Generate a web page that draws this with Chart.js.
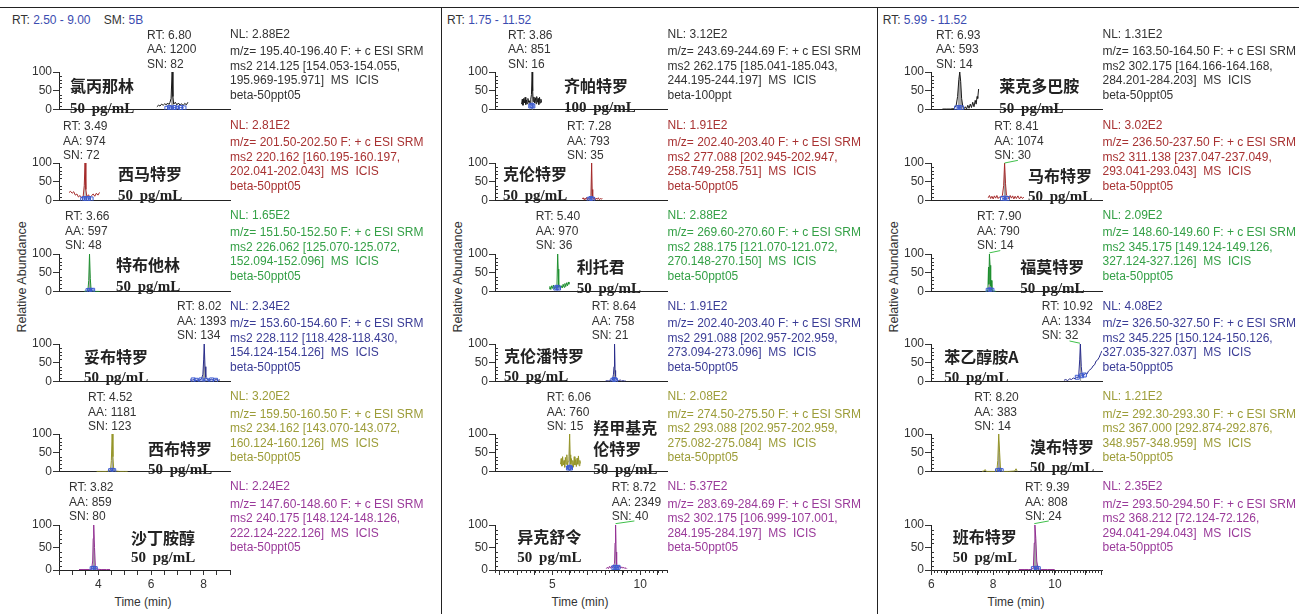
<!DOCTYPE html>
<html><head><meta charset="utf-8">
<script src="https://cdn.jsdelivr.net/npm/chart.js@4/dist/chart.umd.min.js"></script>
<style>
html,body{margin:0;padding:0;background:#fff;}
body{width:1299px;height:614px;position:relative;overflow:hidden;font-family:"Liberation Sans",Arial,sans-serif;}
.t{position:absolute;white-space:pre;font-size:12px;line-height:14.5px;color:#333;}
.cn{position:absolute;white-space:pre;font-family:"Noto Sans CJK SC";font-size:16px;font-weight:bold;color:#222;line-height:21px;}
.conc{position:absolute;white-space:pre;font-family:"Liberation Serif",serif;font-weight:bold;font-size:15px;color:#222;line-height:18px;word-spacing:3px;}
.ttl{position:absolute;white-space:pre;font-size:12px;color:#333;line-height:14px;}
.rule{position:absolute;background:#222;}
canvas{position:absolute;}
</style></head><body>
<script>
// ---------------- DATA ----------------
const PANEL_RANGES = [[2.50, 9.00], [1.75, 11.52], [5.99, 11.52]];
const PANEL_RT_TEXT = ["2.50 - 9.00", "1.75 - 11.52", "5.99 - 11.52"];
const X_TICK_STEP = [0.5, 1, 0.5];
const X_MINOR_STEP = [0, 0.25, 0.1];
const X_LABEL_STEP = [2, 5, 2];
const Y_TICKS = [0, 50, 100];

const COMPOUNDS = [
  ["氯丙那林", "西马特罗", "特布他林", "妥布特罗", "西布特罗", "沙丁胺醇"],
  ["齐帕特罗", "克伦特罗", "利托君", "克伦潘特罗", "羟甲基克\n伦特罗", "异克舒令"],
  ["莱克多巴胺", "马布特罗", "福莫特罗", "苯乙醇胺A", "溴布特罗", "班布特罗"]
];
const CONCS = [
  ["50 pg/mL","50 pg/mL","50 pg/mL","50 pg/mL","50 pg/mL","50 pg/mL"],
  ["100 pg/mL","50 pg/mL","50 pg/mL","50 pg/mL","50 pg/mL","50 pg/mL"],
  ["50 pg/mL","50 pg/mL","50 pg/mL","50 pg/mL","50 pg/mL","50 pg/mL"]
];
const PEAK_RT = [["6.80","3.49","3.66","8.02","4.52","3.82"], ["3.86","7.28","5.40","8.64","6.06","8.72"], ["6.93","8.41","7.90","10.92","8.20","9.39"]];
const PEAK_AA = [[1200, 974, 597, 1393, 1181, 859], [851, 793, 970, 758, 760, 2349], [593, 1074, 790, 1334, 383, 808]];
const PEAK_SN = [[82, 72, 48, 134, 123, 80], [16, 35, 36, 21, 15, 40], [14, 30, 14, 32, 14, 24]];
const NL = [["2.88E2","2.81E2","1.65E2","2.34E2","3.20E2","2.24E2"], ["3.12E2","1.91E2","2.88E2","1.91E2","2.08E2","5.37E2"], ["1.31E2","3.02E2","2.09E2","4.08E2","1.21E2","2.35E2"]];
const MZ = [["195.40-196.40","201.50-202.50","151.50-152.50","153.60-154.60","159.50-160.50","147.60-148.60"],
            ["243.69-244.69","202.40-203.40","269.60-270.60","202.40-203.40","274.50-275.50","283.69-284.69"],
            ["163.50-164.50","236.50-237.50","148.60-149.60","326.50-327.50","292.30-293.30","293.50-294.50"]];
const MS2_PARENT = [["214.125","220.162","226.062","228.112","234.162","240.175"],
                    ["262.175","277.088","288.175","291.088","293.088","302.175"],
                    ["302.175","311.138","345.175","345.225","367.000","368.212"]];
const MS2_RANGE1 = [["154.053-154.055","160.195-160.197","125.070-125.072","118.428-118.430","143.070-143.072","148.124-148.126"],
                    ["185.041-185.043","202.945-202.947","121.070-121.072","202.957-202.959","202.957-202.959","106.999-107.001"],
                    ["164.166-164.168","237.047-237.049","149.124-149.126","150.124-150.126","292.874-292.876","72.124-72.126"]];
const MS2_RANGE2 = [["195.969-195.971","202.041-202.043","152.094-152.096","154.124-154.126","160.124-160.126","222.124-222.126"],
                    ["244.195-244.197","258.749-258.751","270.148-270.150","273.094-273.096","275.082-275.084","284.195-284.197"],
                    ["284.201-284.203","293.041-293.043","327.124-327.126","327.035-327.037","348.957-348.959","294.041-294.043"]];
const FILES = [["beta-50ppt05","beta-50ppt05","beta-50ppt05","beta-50ppt05","beta-50ppt05","beta-50ppt05"],
               ["beta-100ppt","beta-50ppt05","beta-50ppt05","beta-50ppt05","beta-50ppt05","beta-50ppt05"],
               ["beta-50ppt05","beta-50ppt05","beta-50ppt05","beta-50ppt05","beta-50ppt05","beta-50ppt05"]];

// chromatogram traces: [time (min), relative abundance (%)]
const T_CHLORPRENALINE = [[6.22,8],[6.28,12],[6.34,10],[6.40,15],[6.46,12],[6.52,16],[6.58,13],[6.63,18],[6.68,14],[6.72,20],[6.76,30],[6.80,100],[6.83,35],[6.86,15],[6.92,20],[6.98,13],[7.04,18],[7.10,12],[7.16,16],[7.22,11],[7.28,17],[7.34,13],[7.40,20]];
const T_CIMATEROL = [[2.88,22],[2.94,25],[3.00,20],[3.06,24],[3.12,15],[3.18,18],[3.24,10],[3.30,14],[3.36,8],[3.42,12],[3.46,40],[3.49,100],[3.52,30],[3.56,10],[3.62,16],[3.68,9],[3.74,14],[3.80,18],[3.86,12],[3.92,20],[3.98,15],[4.04,22]];
const T_TERBUTALINE = [[3.45,1],[3.55,2],[3.60,4],[3.63,30],[3.66,100],[3.69,35],[3.72,5],[3.78,2],[3.90,1],[4.05,1]];
const T_TULOBUTEROL = [[7.48,5],[7.55,4],[7.62,6],[7.70,3],[7.78,5],[7.85,4],[7.92,8],[7.97,20],[8.00,60],[8.02,100],[8.05,40],[8.08,12],[8.14,6],[8.22,4],[8.30,7],[8.38,3],[8.46,6],[8.54,4],[8.62,5]];
const T_CIMBUTEROL = [[3.93,1],[4.10,1],[4.30,1],[4.40,2],[4.46,5],[4.49,30],[4.52,100],[4.55,40],[4.58,6],[4.65,2],[4.80,1],[5.00,1],[5.11,1]];
const T_SALBUTAMOL = [[3.26,1],[3.45,1],[3.65,1],[3.74,2],[3.78,20],[3.80,70],[3.82,100],[3.85,50],[3.88,10],[3.92,2],[4.10,1],[4.30,1],[4.44,1]];
const T_ZILPATEROL = [[3.26,15],[3.30,28],[3.34,12],[3.38,30],[3.42,18],[3.46,33],[3.50,14],[3.54,26],[3.58,16],[3.62,30],[3.66,20],[3.70,24],[3.74,15],[3.78,28],[3.82,40],[3.86,100],[3.89,50],[3.92,22],[3.96,34],[4.00,18],[4.04,32],[4.08,16],[4.12,35],[4.16,20],[4.20,30],[4.24,14],[4.28,33],[4.32,18],[4.36,28],[4.39,20]];
const T_CLENBUTEROL = [[6.71,5],[6.76,8],[6.81,3],[6.86,7],[6.91,4],[6.96,9],[7.01,3],[7.06,6],[7.11,4],[7.16,8],[7.20,15],[7.24,100],[7.27,30],[7.30,8],[7.35,4],[7.40,9],[7.45,3],[7.50,7],[7.56,4],[7.62,8],[7.68,3],[7.74,6],[7.79,4],[7.84,7]];
const T_RITODRINE = [[4.82,8],[4.87,14],[4.92,6],[4.97,16],[5.02,9],[5.07,18],[5.12,8],[5.17,14],[5.22,10],[5.27,20],[5.31,100],[5.34,60],[5.37,12],[5.42,18],[5.47,9],[5.52,16],[5.57,10],[5.62,20],[5.67,12],[5.72,22],[5.77,14],[5.82,24],[5.87,16],[5.92,26],[5.95,20]];
const T_CLENPENTEROL = [[8.03,2],[8.10,3],[8.18,2],[8.26,4],[8.34,3],[8.40,6],[8.45,12],[8.48,20],[8.51,40],[8.54,100],[8.57,30],[8.60,15],[8.64,8],[8.70,4],[8.78,3],[8.86,5],[8.94,2],[9.02,3],[9.10,2],[9.16,3]];
const T_HYDROXYMETHYLCLENBUTEROL = [[5.47,20],[5.51,35],[5.55,15],[5.59,40],[5.63,18],[5.67,30],[5.71,12],[5.75,38],[5.79,20],[5.83,45],[5.87,15],[5.91,28],[5.95,40],[5.99,100],[6.02,45],[6.05,20],[6.09,35],[6.13,15],[6.17,30],[6.21,12],[6.25,40],[6.29,18],[6.33,32],[6.37,14],[6.41,36],[6.45,20],[6.49,42],[6.53,16],[6.57,30],[6.60,22]];
const T_ISOXSUPRINE = [[8.07,3],[8.13,6],[8.19,3],[8.25,8],[8.31,4],[8.37,9],[8.43,5],[8.49,10],[8.54,15],[8.57,60],[8.60,100],[8.63,40],[8.66,12],[8.71,8],[8.77,5],[8.83,9],[8.89,4],[8.95,7],[9.01,4],[9.07,6],[9.13,3],[9.19,5],[9.24,3]];
const T_RACTOPAMINE = [[6.36,2],[6.50,2],[6.62,2],[6.72,3],[6.80,10],[6.85,35],[6.89,80],[6.92,100],[6.95,75],[6.98,30],[7.02,8],[7.06,3],[7.10,8],[7.14,2],[7.18,12],[7.22,4],[7.26,15],[7.30,6],[7.34,20],[7.38,8],[7.42,25],[7.45,15],[7.48,35],[7.50,30],[7.53,55]];
const T_MABUTEROL = [[7.84,8],[7.88,14],[7.92,6],[7.96,12],[8.00,5],[8.04,13],[8.08,7],[8.12,14],[8.16,6],[8.20,10],[8.25,8],[8.30,15],[8.34,40],[8.37,100],[8.40,45],[8.43,15],[8.47,12],[8.51,5],[8.55,14],[8.59,7],[8.63,13],[8.67,5],[8.71,12],[8.75,6],[8.80,13],[8.85,5],[8.90,11],[8.95,6],[8.99,10]];
const T_FORMOTEROL = [[7.75,1],[7.80,2],[7.83,5],[7.85,65],[7.86,20],[7.88,100],[7.90,70],[7.92,15],[7.94,30],[7.96,5],[8.00,2],[8.10,1]];
const T_PHENYLETHANOLAMINE_A = [[10.29,4],[10.35,6],[10.41,3],[10.47,8],[10.53,6],[10.59,10],[10.65,8],[10.70,12],[10.74,10],[10.77,20],[10.80,60],[10.82,100],[10.85,40],[10.88,15],[10.93,18],[10.98,22],[11.03,20],[11.08,28],[11.13,32],[11.18,35],[11.23,42],[11.28,45],[11.33,55],[11.38,58],[11.43,65],[11.48,75],[11.52,82]];
const T_BROMBUTEROL = [[7.64,1],[7.70,2],[7.74,6],[7.78,1],[7.90,1],[8.05,1],[8.12,2],[8.15,30],[8.18,100],[8.21,50],[8.24,5],[8.30,1],[8.50,1],[8.70,2],[8.74,8],[8.78,1],[8.80,1]];
const T_BAMBUTEROL = [[8.83,1],[9.00,1],[9.15,1],[9.25,1],[9.30,5],[9.33,60],[9.35,100],[9.38,70],[9.41,20],[9.45,3],[9.55,1],[9.75,1],[9.99,1]];

const TRACES = [
  [T_CHLORPRENALINE, T_CIMATEROL, T_TERBUTALINE, T_TULOBUTEROL, T_CIMBUTEROL, T_SALBUTAMOL],
  [T_ZILPATEROL, T_CLENBUTEROL, T_RITODRINE, T_CLENPENTEROL, T_HYDROXYMETHYLCLENBUTEROL, T_ISOXSUPRINE],
  [T_RACTOPAMINE, T_MABUTEROL, T_FORMOTEROL, T_PHENYLETHANOLAMINE_A, T_BROMBUTEROL, T_BAMBUTEROL]
];
// integrated peak limits [start, end] (min)
const PEAK_LIMITS = [
  [[6.74,6.86],[3.45,3.53],[3.61,3.72],[7.95,8.10],[4.47,4.60],[3.76,3.92]],
  [[3.80,3.92],[7.19,7.29],[5.29,5.36],[8.46,8.62],[5.93,6.05],[8.55,8.68]],
  [[6.82,7.02],[8.33,8.45],[7.84,7.97],[10.78,10.86],[8.14,8.25],[9.30,9.45]]
];
// baseline markers [time, abundance]
const BASE_MARKS = [
  [[[6.60,4],[6.70,6],[6.78,4],[6.90,6],[7.00,4],[7.12,6],[7.25,5]], [[3.40,4],[3.47,6],[3.55,4],[3.62,6],[3.72,5]], [[3.60,3],[3.66,4],[3.72,3],[3.78,4]], [[7.60,5],[7.72,4],[7.90,5],[8.10,4],[8.30,5],[8.45,4]], [[4.46,3],[4.52,4],[4.58,3]], [[3.76,3],[3.82,4],[3.88,3]]],
  [[[3.78,10],[3.84,12],[3.90,10]], [[7.10,4],[7.20,6],[7.30,4]], [[5.20,10],[5.28,12],[5.36,10]], [[8.44,4],[8.52,6],[8.60,4]], [[5.92,10],[5.98,12],[6.04,10]], [[8.50,5],[8.58,6],[8.66,5],[8.74,6]]],
  [[[6.82,5],[6.90,6],[6.98,5]], [[8.30,6],[8.38,7],[8.46,6]], [[7.84,4],[7.90,5],[7.96,4]], [[10.72,12],[10.86,16],[10.95,18]], [[8.14,3],[8.20,4],[8.26,3]], [[9.30,3],[9.40,4],[9.46,3]]]
];
// S/N leader lines [[t0,y0],[t1,y1]]
const LEADERS = [
  [null, null, null, null, null, null],
  [null, null, null, null, null, [[8.60,103],[9.67,109]]],
  [null, [[8.37,100],[8.80,107]], [[7.88,103],[8.23,109]], [[10.81,102],[10.47,108]], null, [[9.33,103],[9.80,109]]]
];

// ---------------- LAYOUT / STYLE ----------------
const AXIS_X = [59, 495, 931];
const PLOT_R = [229.5, 667, 1102];
const SUB_TOP = [72, 163, 254, 344, 434, 525];
const SUB_H = 45;
const NL_Y = [34, 125, 215, 306, 396.5, 486.5];
const TRACE_COLORS = ['#1a1a1a', '#a52a2a', '#1f9030', '#2a2e8c', '#959528', '#932f93'];
const TEXT_COLORS = ['#333333', '#a83232', '#34a046', '#3a3c96', '#9c9c38', '#9a3a9a'];
const RT_POS = [
  [[147,35],[63,126.7],[65,216.7],[177,306.7],[88,397.3],[69,487.7]],
  [[508,35],[567,126.7],[535.7,216.7],[591.7,306.7],[546.7,397.3],[611.7,487.7]],
  [[936,35],[994.3,126.7],[977,216.7],[1041.7,306.7],[974.3,397.3],[1025,487.7]]
];
const NAME_POS = [
  [[70,85,107.5],[118,173,195],[116,264,285.5],[84,356,377],[148,448,468.5],[131,537.7,557]],
  [[564,85,106.5],[503,173,194.5],[576.7,266.7,287.5],[504,355,376],[593.3,427.3,468.5],[517.3,536.7,557]],
  [[999.3,85,107.5],[1028,175,195.5],[1020.3,266.7,287.5],[944.3,356.7,377],[1030,446.7,467],[952.7,536.7,556.5]]
];
const HEADER_X = [12, 447, 882.7];
const YTITLE_X = [22, 458, 894];
const XTITLE_X = [143, 580, 1016];

function addDiv(cls, text, left, top, color, extra) {
  const d = document.createElement('div');
  d.className = cls;
  d.textContent = text;
  d.style.left = left + 'px';
  d.style.top = top + 'px';
  if (color) d.style.color = color;
  if (extra) Object.assign(d.style, extra);
  document.body.appendChild(d);
  return d;
}

// frame rules
function rule(l, t, w, h) { const d = document.createElement('div'); d.className = 'rule'; Object.assign(d.style, {left:l+'px', top:t+'px', width:w+'px', height:h+'px'}); document.body.appendChild(d); }
rule(0, 7, 1299, 1.3);
rule(440.5, 7, 1.3, 607);
rule(877, 7, 1.3, 607);

const minorTicks = {
  id: 'minorTicks',
  afterDraw(chart, args, opts) {
    const ctx = chart.ctx, ys = chart.scales.y, xs = chart.scales.x;
    ctx.save();
    ctx.strokeStyle = '#333';
    ctx.lineWidth = 1;
    ctx.beginPath();
    for (let v = 10; v < 100; v += 10) {
      if (v === 50) continue;
      const py = Math.round(ys.getPixelForValue(v)) + 0.5;
      ctx.moveTo(ys.right, py); ctx.lineTo(ys.right + 3, py);
    }
    if (opts.step) {
      const st = opts.step;
      for (let i = Math.ceil(xs.min / st - 1e-6); i * st <= xs.max + 1e-9; i++) {
        const px = Math.round(xs.getPixelForValue(i * st)) + 0.5;
        ctx.moveTo(px, xs.top); ctx.lineTo(px, xs.top + 3);
      }
    }
    ctx.stroke();
    ctx.restore();
  }
};

const FONT = {family: 'Liberation Sans', size: 12};

function makeChart(p, k) {
  const left = AXIS_X[p], right = PLOT_R[p];
  const YW = 40, PT = 12, PR = 6;
  const isBottom = k === 5;
  const XH = isBottom ? 23 : 1;
  const w = Math.round(right - left) + YW + PR, h = PT + SUB_H + XH;
  const c = document.createElement('canvas');
  c.width = w; c.height = h;
  c.style.left = (left - YW) + 'px';
  c.style.top = (SUB_TOP[k] - PT) + 'px';
  c.style.width = w + 'px'; c.style.height = h + 'px';
  document.body.appendChild(c);

  const [xmin, xmax] = PANEL_RANGES[p];
  const trace = TRACES[p][k];
  const lim = PEAK_LIMITS[p][k];
  const area = trace.filter(d => d[0] >= lim[0] && d[0] <= lim[1]).map(d => ({x: d[0], y: d[1]}));
  const datasets = [
    {data: BASE_MARKS[p][k].map(d => ({x: d[0], y: d[1]})), borderColor: '#3d5bd0', borderWidth: 1, pointStyle: 'rect', pointRadius: 2.8, pointBorderColor: '#3d5bd0', pointBackgroundColor: 'rgba(255,255,255,0)', pointBorderWidth: 1},
    {data: trace.map(d => ({x: d[0], y: d[1]})), borderColor: TRACE_COLORS[k], borderWidth: 1, pointRadius: 0, fill: false},
    {data: area, borderColor: 'rgba(0,0,0,0)', borderWidth: 0, backgroundColor: '#a6a6a6', pointRadius: 0, fill: 'origin'}
  ];
  const lead = LEADERS[p][k];
  if (lead) datasets.unshift({data: lead.map(d => ({x: d[0], y: d[1]})), borderColor: '#3fbf4a', borderWidth: 1, pointRadius: 0, clip: false});

  const tstep = X_TICK_STEP[p], lstep = X_LABEL_STEP[p];
  new Chart(c, {
    type: 'line',
    data: {datasets},
    options: {
      responsive: false, animation: false, devicePixelRatio: 1, events: [],
      layout: {padding: {top: PT, right: PR, left: 0, bottom: 0}},
      plugins: {legend: {display: false}, tooltip: {enabled: false}, minorTicks: {step: isBottom ? X_MINOR_STEP[p] : 0}},
      elements: {line: {tension: 0}},
      scales: {
        x: {
          type: 'linear', min: xmin, max: xmax,
          afterFit: s => { s.height = XH; },
          afterBuildTicks: s => {
            const arr = [];
            for (let i = Math.ceil(xmin / tstep - 1e-6); i * tstep <= xmax + 1e-9; i++) arr.push({value: Math.round(i * tstep * 100) / 100});
            s.ticks = arr;
          },
          grid: {drawOnChartArea: false, drawTicks: isBottom, tickLength: 5, color: '#333'},
          border: {display: true, color: '#222', width: 1},
          ticks: {display: isBottom, autoSkip: false, maxRotation: 0, padding: 2, font: FONT, color: '#333',
            callback: v => (Math.abs(v / lstep - Math.round(v / lstep)) < 1e-6 ? String(Math.round(v)) : '')}
        },
        y: {
          min: 0, max: 100,
          afterFit: s => { s.width = YW; },
          afterBuildTicks: s => { s.ticks = Y_TICKS.map(v => ({value: v})); },
          grid: {drawOnChartArea: false, tickLength: 6, color: '#333'},
          border: {display: true, color: '#222', width: 1},
          ticks: {padding: 1, font: FONT, color: '#333'}
        }
      }
    },
    plugins: [minorTicks]
  });
}

for (let p = 0; p < 3; p++) {
  const hd = addDiv('t', '', HEADER_X[p], 13);
  hd.innerHTML = 'RT: <span style="color:#3b4cb0">' + PANEL_RT_TEXT[p] + '</span>' + (p === 0 ? '    SM: <span style="color:#3b4cb0">5B</span>' : '');
  addDiv('ttl', 'Relative Abundance', YTITLE_X[p], 276.7, null, {transform: 'translate(-50%,-50%) rotate(-90deg)', fontSize: '12.5px'});
  addDiv('ttl', 'Time (min)', XTITLE_X[p], 601.7, null, {transform: 'translate(-50%,-50%)'});
  for (let k = 0; k < 6; k++) {
    makeChart(p, k);
    const [rx, ry] = RT_POS[p][k];
    addDiv('t', 'RT: ' + PEAK_RT[p][k] + '\nAA: ' + PEAK_AA[p][k] + '\nSN: ' + PEAK_SN[p][k], rx, ry - 7.25);
    const col = TEXT_COLORS[k];
    addDiv('t', 'NL: ' + NL[p][k], PLOT_R[p] + 0.5, NL_Y[k] - 7.25, col);
    addDiv('t', 'm/z= ' + MZ[p][k] + ' F: + c ESI SRM\nms2 ' + MS2_PARENT[p][k] + ' [' + MS2_RANGE1[p][k] + ',\n' + MS2_RANGE2[p][k] + ']  MS  ICIS\n' + FILES[p][k], PLOT_R[p] + 0.5, NL_Y[k] + 17.5 - 7.25, col);
    const [nx, ny, cy] = NAME_POS[p][k];
    addDiv('cn', COMPOUNDS[p][k], nx, ny - 10.5);
    addDiv('conc', CONCS[p][k], nx, cy - 9);
  }
}
</script>
</body></html>
